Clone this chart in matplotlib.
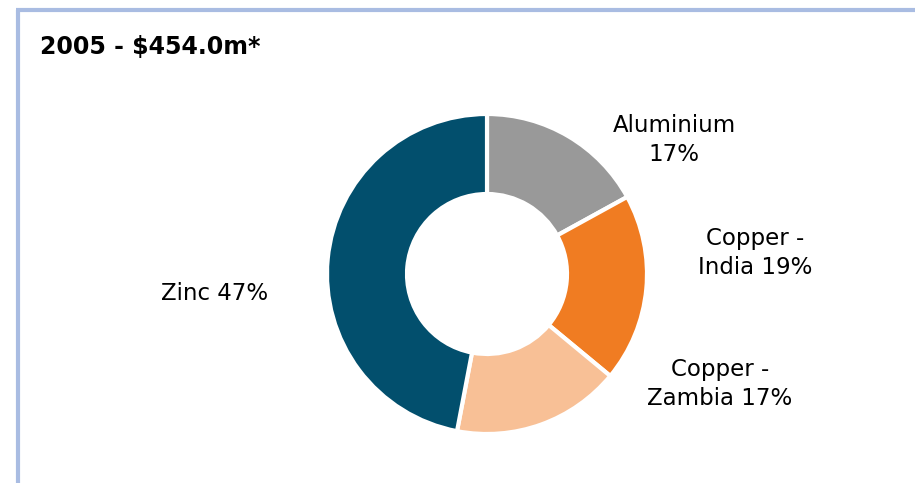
import matplotlib
matplotlib.use("Agg")
from matplotlib import pyplot as plt

# данные
segments = ["Aluminium", "Copper - India", "Copper - Zambia", "Zinc"]
shares = [17, 19, 17, 47]
labels = ["Aluminium\n17%", "Copper -\nIndia 19%", "Copper -\nZambia 17%", "Zinc 47%"]
colors = ["#999999", "#F07C22", "#F8C096", "#024F6D"]
title = "2005 - $454.0m*"

W, H = 915, 483
fig = plt.figure(figsize=(W / 100, H / 100), dpi=100)
ax = fig.add_axes([0, 0, 1, 1])

# рамка
ax.plot([16, W], [H - 10, H - 10], color="#A9BCE2", lw=3, solid_capstyle="butt")
ax.plot([18, 18], [H - 10, 0], color="#A9BCE2", lw=3, solid_capstyle="butt")

wedges, _ = ax.pie(shares, colors=colors, startangle=90, counterclock=False,
                   center=(487, H - 274), radius=160,
                   wedgeprops=dict(width=80, edgecolor="white", linewidth=3))
ax.set_xlim(0, W)
ax.set_ylim(0, H)
ax.set_aspect("equal")
ax.axis("off")

# подписи
pos = [(674, 140), (755, 253), (720, 384), (215, 293)]
for (x, y), t in zip(pos, labels):
    ax.text(x, H - y, t, ha="center", va="center", fontsize=16.5,
            linespacing=1.3, color="black")

ax.text(40, H - 47, title, ha="left", va="center", fontsize=17,
        fontweight="bold", color="black")

fig.savefig("out.png", dpi=100)
